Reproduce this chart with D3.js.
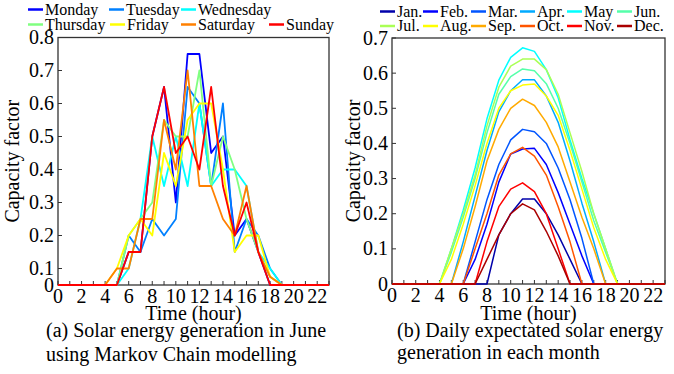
<!DOCTYPE html>
<html>
<head>
<meta charset="utf-8">
<script src="https://cdn.jsdelivr.net/npm/d3@7"></script>
<style>
  body { margin: 0; background: #fff; }
  svg, svg text { font-family: "Liberation Serif", "Times New Roman", Times, serif; }
</style>
</head>
<body>
<svg id="chart" width="674" height="374"></svg>
<script>
// hours of the day (x axis)
const hours = [0, 1, 2, 3, 4, 5, 6, 7, 8, 9, 10, 11, 12, 13, 14, 15, 16, 17, 18, 19, 20, 21, 22, 23];
const hourTicks = [0, 2, 4, 6, 8, 10, 12, 14, 16, 18, 20, 22];

// (a) June, Markov chain days
const dayNames = ["Monday", "Tuesday", "Wednesday", "Thursday", "Friday", "Saturday", "Sunday"];
const monday    = [0, 0, 0, 0, 0, 0, 0.15, 0.15, 0.5, 0.65, 0.3, 0.75, 0.75, 0.45, 0.5, 0.2, 0.25, 0.15, 0, 0, 0, 0, 0, 0];
const tuesday   = [0, 0, 0, 0, 0, 0, 0.2, 0.15, 0.25, 0.2, 0.25, 0.65, 0.6, 0.35, 0.6, 0.15, 0.25, 0.2, 0.1, 0, 0, 0, 0, 0];
const wednesday = [0, 0, 0, 0, 0, 0, 0.1, 0.25, 0.5, 0.35, 0.5, 0.35, 0.6, 0.35, 0.4, 0.4, 0.35, 0.15, 0.1, 0, 0, 0, 0, 0];
const thursday  = [0, 0, 0, 0, 0, 0, 0.2, 0.25, 0.3, 0.55, 0.5, 0.5, 0.7, 0.35, 0.5, 0.4, 0.25, 0.15, 0.05, 0, 0, 0, 0, 0];
const friday    = [0, 0, 0, 0, 0, 0.1, 0.2, 0.25, 0.2, 0.45, 0.35, 0.55, 0.6, 0.6, 0.4, 0.15, 0.2, 0.2, 0.05, 0, 0, 0, 0, 0];
const saturday  = [0, 0, 0, 0, 0, 0.1, 0.1, 0.25, 0.25, 0.55, 0.4, 0.7, 0.35, 0.35, 0.25, 0.2, 0.35, 0.15, 0.05, 0, 0, 0, 0, 0];
const sunday    = [0, 0, 0, 0, 0, 0, 0.15, 0.15, 0.5, 0.65, 0.45, 0.5, 0.4, 0.65, 0.35, 0.2, 0.3, 0.15, 0, 0, 0, 0, 0, 0];
const dayColors = ["#0000ff", "#0080ff", "#00ffff", "#80ff80", "#ffff00", "#ff8000", "#ff0000"];
const leftTicks = [0, 0.1, 0.2, 0.3, 0.4, 0.5, 0.6, 0.7, 0.8];

// (b) expected daily profile per month
const monthNames = ["Jan.", "Feb.", "Mar.", "Apr.", "May", "Jun.", "Jul.", "Aug.", "Sep.", "Oct.", "Nov.", "Dec."];
const jan = [0, 0, 0, 0, 0, 0, 0, 0, 0, 0.14, 0.2, 0.242, 0.242, 0.2, 0.14, 0.07, 0, 0, 0, 0, 0, 0, 0, 0];
const feb = [0, 0, 0, 0, 0, 0, 0, 0.07, 0.17, 0.29, 0.37, 0.384, 0.386, 0.34, 0.26, 0.17, 0.08, 0, 0, 0, 0, 0, 0, 0];
const mar = [0, 0, 0, 0, 0, 0, 0, 0.12, 0.24, 0.34, 0.41, 0.44, 0.433, 0.4, 0.33, 0.24, 0.13, 0, 0, 0, 0, 0, 0, 0];
const apr = [0, 0, 0, 0, 0, 0, 0.12, 0.25, 0.38, 0.49, 0.55, 0.581, 0.581, 0.535, 0.46, 0.35, 0.23, 0.12, 0, 0, 0, 0, 0, 0];
const may = [0, 0, 0, 0, 0, 0.1, 0.21, 0.33, 0.47, 0.58, 0.645, 0.672, 0.662, 0.61, 0.53, 0.41, 0.3, 0.2, 0.1, 0, 0, 0, 0, 0];
const jun = [0, 0, 0, 0, 0, 0.09, 0.19, 0.3, 0.43, 0.54, 0.59, 0.612, 0.607, 0.57, 0.5, 0.4, 0.29, 0.18, 0.09, 0, 0, 0, 0, 0];
const jul = [0, 0, 0, 0, 0, 0.1, 0.2, 0.31, 0.45, 0.56, 0.62, 0.64, 0.64, 0.61, 0.54, 0.43, 0.32, 0.2, 0.1, 0, 0, 0, 0, 0];
const aug = [0, 0, 0, 0, 0, 0.07, 0.17, 0.28, 0.4, 0.5, 0.55, 0.566, 0.569, 0.535, 0.48, 0.38, 0.27, 0.16, 0.07, 0, 0, 0, 0, 0];
const sep = [0, 0, 0, 0, 0, 0, 0.1, 0.22, 0.35, 0.44, 0.5, 0.526, 0.508, 0.46, 0.39, 0.29, 0.19, 0.1, 0, 0, 0, 0, 0, 0];
const oct = [0, 0, 0, 0, 0, 0, 0, 0.1, 0.2, 0.31, 0.37, 0.389, 0.364, 0.31, 0.22, 0.12, 0, 0, 0, 0, 0, 0, 0, 0];
const nov = [0, 0, 0, 0, 0, 0, 0, 0, 0.12, 0.22, 0.27, 0.288, 0.263, 0.2, 0.1, 0, 0, 0, 0, 0, 0, 0, 0, 0];
const dec = [0, 0, 0, 0, 0, 0, 0, 0, 0.07, 0.14, 0.2, 0.228, 0.211, 0.15, 0.08, 0, 0, 0, 0, 0, 0, 0, 0, 0];
const monthColors = ["#0000aa", "#0000ff", "#0055ff", "#00aaff", "#00ffff", "#55ffaa",
                     "#aaff55", "#ffff00", "#ffaa00", "#ff5500", "#ff0000", "#aa0000"];
const rightTicks = [0, 0.1, 0.2, 0.3, 0.4, 0.5, 0.6, 0.7];

const FONT = '"Liberation Serif", "Times New Roman", Times, serif';
const svg = d3.select("#chart").attr("font-family", FONT);

function drawPanel(cfg) {
  const g = svg.append("g").attr("font-family", FONT);
  const x = d3.scaleLinear().domain([0, 23]).range([cfg.x0, cfg.x1]);
  const y = d3.scaleLinear().domain(cfg.yDomain).range(cfg.yRange);
  const top = cfg.yRange[cfg.yRange.length - 1];
  const bottom = cfg.yRange[0];
  const line = d3.line().x((d, i) => x(hours[i])).y(d => y(d));

  // box
  g.append("rect")
    .attr("x", cfg.x0).attr("y", top)
    .attr("width", cfg.x1 - cfg.x0).attr("height", bottom - top)
    .attr("fill", "none").attr("stroke", "#333").attr("stroke-width", 1.3);

  // x ticks (inward, every hour) + labels every 2
  g.append("g").selectAll("line").data(hours).join("line")
    .attr("x1", d => x(d)).attr("x2", d => x(d))
    .attr("y1", bottom).attr("y2", bottom - 4)
    .attr("stroke", "#333").attr("stroke-width", 1);
  g.append("g").selectAll("text").data(hourTicks).join("text")
    .attr("x", d => x(d)).attr("y", bottom + 18)
    .attr("text-anchor", "middle").attr("font-size", 20)
    .text(d => d);

  // y ticks
  g.append("g").selectAll("line").data(cfg.ticks).join("line")
    .attr("x1", cfg.x0).attr("x2", cfg.x0 + 4)
    .attr("y1", d => y(d)).attr("y2", d => y(d))
    .attr("stroke", "#333").attr("stroke-width", 1);
  g.append("g").selectAll("text").data(cfg.ticks).join("text")
    .attr("x", cfg.x0 - 4).attr("y", d => y(d))
    .attr("dy", "0.33em")
    .attr("text-anchor", "end").attr("font-size", 20)
    .text(d => d === 0 ? "0" : d3.format(".1f")(d));

  // series
  g.append("g").selectAll("path").data(cfg.series).join("path")
    .attr("d", d => line(d))
    .attr("fill", "none")
    .attr("stroke", (d, i) => cfg.colors[i])
    .attr("stroke-width", cfg.lineWidth)
    .attr("stroke-linejoin", "round");

  // axis labels
  g.append("text")
    .attr("x", (cfg.x0 + cfg.x1) / 2).attr("y", 320)
    .attr("text-anchor", "middle").attr("font-size", 20)
    .text("Time (hour)");
  g.append("text")
    .attr("transform", `translate(${cfg.yLabelX},${(top + bottom) / 2}) rotate(-90)`)
    .attr("text-anchor", "middle").attr("font-size", 20)
    .text("Capacity factor");

  // captions
  g.append("g").selectAll("text").data(cfg.caption).join("text")
    .attr("x", cfg.captionX).attr("y", (d, i) => cfg.captionY[i])
    .attr("font-size", 20)
    .text(d => d);

  // legend
  const leg = g.append("g").selectAll("g").data(cfg.names).join("g")
    .attr("transform", (d, i) => `translate(${cfg.legPos[i][0]},${cfg.legPos[i][1]})`);
  leg.append("line")
    .attr("x1", 0).attr("x2", 15).attr("y1", 0).attr("y2", 0)
    .attr("stroke", (d, i) => cfg.colors[i]).attr("stroke-width", 2.5);
  leg.append("text")
    .attr("x", 17).attr("y", 0).attr("dy", "0.33em")
    .attr("font-size", 16)
    .text(d => d);
}

drawPanel({
  x0: 58, x1: 329,
  yDomain: [0, 0.1, 0.8], yRange: [285, 268.5, 37.5],
  ticks: leftTicks,
  series: [monday, tuesday, wednesday, thursday, friday, saturday, sunday],
  colors: dayColors, names: dayNames, lineWidth: 1.8,
  yLabelX: 19,
  caption: ["(a) Solar energy generation in June", "using Markov Chain modelling"],
  captionX: 46, captionY: [337, 361],
  legPos: [[28, 9.5], [109, 9.5], [181, 9.5], [28, 24.5], [110, 24.5], [181, 24.5], [269, 24.5]]
});

drawPanel({
  x0: 392, x1: 665,
  yDomain: [0, 0.7], yRange: [284, 38],
  ticks: rightTicks,
  series: [jan, feb, mar, apr, may, jun, jul, aug, sep, oct, nov, dec],
  colors: monthColors, names: monthNames, lineWidth: 1.5,
  yLabelX: 360,
  caption: ["(b) Daily expectated solar energy", "generation in each month"],
  captionX: 397, captionY: [337, 359],
  legPos: [[380, 11.5], [423, 11.5], [471, 11.5], [520, 11.5], [567, 11.5], [617, 11.5],
           [380, 26], [423, 26], [471, 26], [520, 26], [567, 26], [617, 26]]
});
</script>
</body>
</html>
